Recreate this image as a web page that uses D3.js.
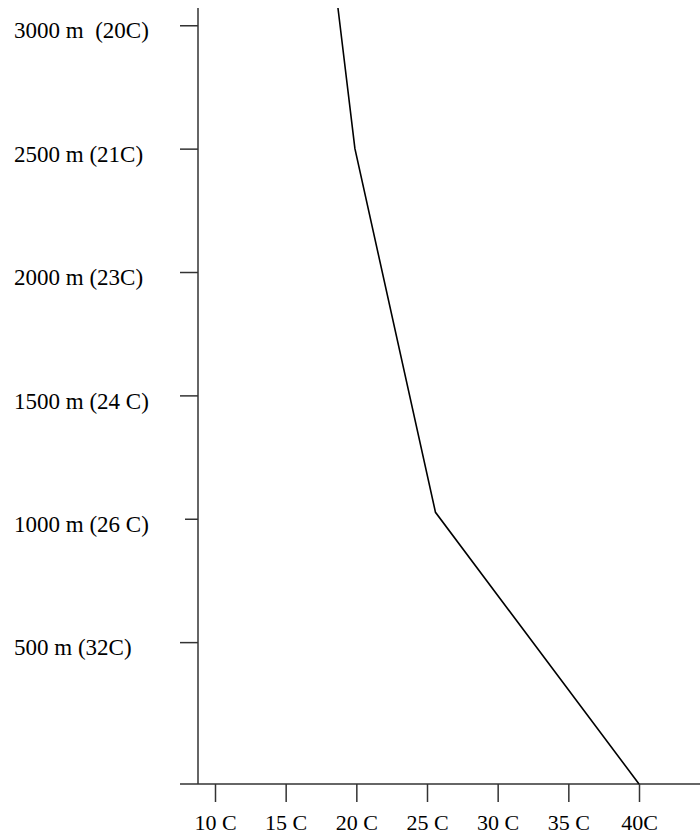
<!DOCTYPE html>
<html>
<head>
<meta charset="utf-8">
<script src="https://cdn.jsdelivr.net/npm/d3@7"></script>
<style>
  html, body { margin: 0; padding: 0; background: #fff; }
  svg { display: block; }
  text { font-family: "Liberation Serif", "Times New Roman", serif; fill: #000; white-space: pre; }
</style>
</head>
<body>
<script>
// ---- data ----
const altitudes = [3070, 2500, 1026, -75];          // metres, as drawn
const temperatures = [18.7, 19.9, 25.6, 40];        // deg C, as drawn
const yTickValues = [500, 1000, 1500, 2000, 2500, 3000];
const yTickLabels = ["500 m (32C)", "1000 m (26 C)", "1500 m (24 C)", "2000 m (23C)", "2500 m (21C)", "3000 m  (20C)"];
const xTickValues = [10, 15, 20, 25, 30, 35, 40];
const xTickLabels = ["10 C", "15 C", "20 C", "25 C", "30 C", "35 C", "40C"];

const W = 700, H = 834;
const svg = d3.select("body").append("svg").attr("width", W).attr("height", H);

const x = d3.scaleLinear().domain([10, 40]).range([215, 639]);
const y = d3.scaleLinear().domain([-75, 3070]).range([784, 8]);

const axisColor = "#333";

// vertical axis line
svg.append("line")
  .attr("x1", 198).attr("x2", 198)
  .attr("y1", y(3070)).attr("y2", y(-75))
  .attr("stroke", axisColor).attr("stroke-width", 1.5);

// horizontal axis line
svg.append("line")
  .attr("x1", 180).attr("x2", W)
  .attr("y1", y(-75)).attr("y2", y(-75))
  .attr("stroke", axisColor).attr("stroke-width", 1.5);

// y axis ticks + labels
const yAxis = d3.axisLeft(y).tickValues(yTickValues).tickSize(18)
  .tickFormat((d, i) => yTickLabels[i]);
const gy = svg.append("g").attr("transform", "translate(198,0)").call(yAxis);
gy.select(".domain").remove();
gy.selectAll(".tick line").attr("stroke", axisColor).attr("stroke-width", 1.5)
  .attr("x2", d => d === 1000 ? -13 : -18);
gy.selectAll(".tick text")
  .attr("text-anchor", "start")
  .attr("x", -184)
  .attr("dy", "0.55em")
  .style("font-size", "23px");

// x axis ticks + labels
const xAxis = d3.axisBottom(x).tickValues(xTickValues).tickSize(18)
  .tickFormat((d, i) => xTickLabels[i]);
const gx = svg.append("g").attr("transform", `translate(0,${y(-75)})`).call(xAxis);
gx.select(".domain").remove();
gx.selectAll(".tick line").attr("stroke", axisColor).attr("stroke-width", 1.5);
gx.selectAll(".tick text")
  .attr("y", 46)
  .attr("dy", 0)
  .style("font-size", "22px");

// profile line
const pts = altitudes.map((a, i) => [temperatures[i], a]);
svg.append("path")
  .datum(pts)
  .attr("fill", "none")
  .attr("stroke", "#000")
  .attr("stroke-width", 1.6)
  .attr("d", d3.line().x(d => x(d[0])).y(d => y(d[1])));
</script>
</body>
</html>
